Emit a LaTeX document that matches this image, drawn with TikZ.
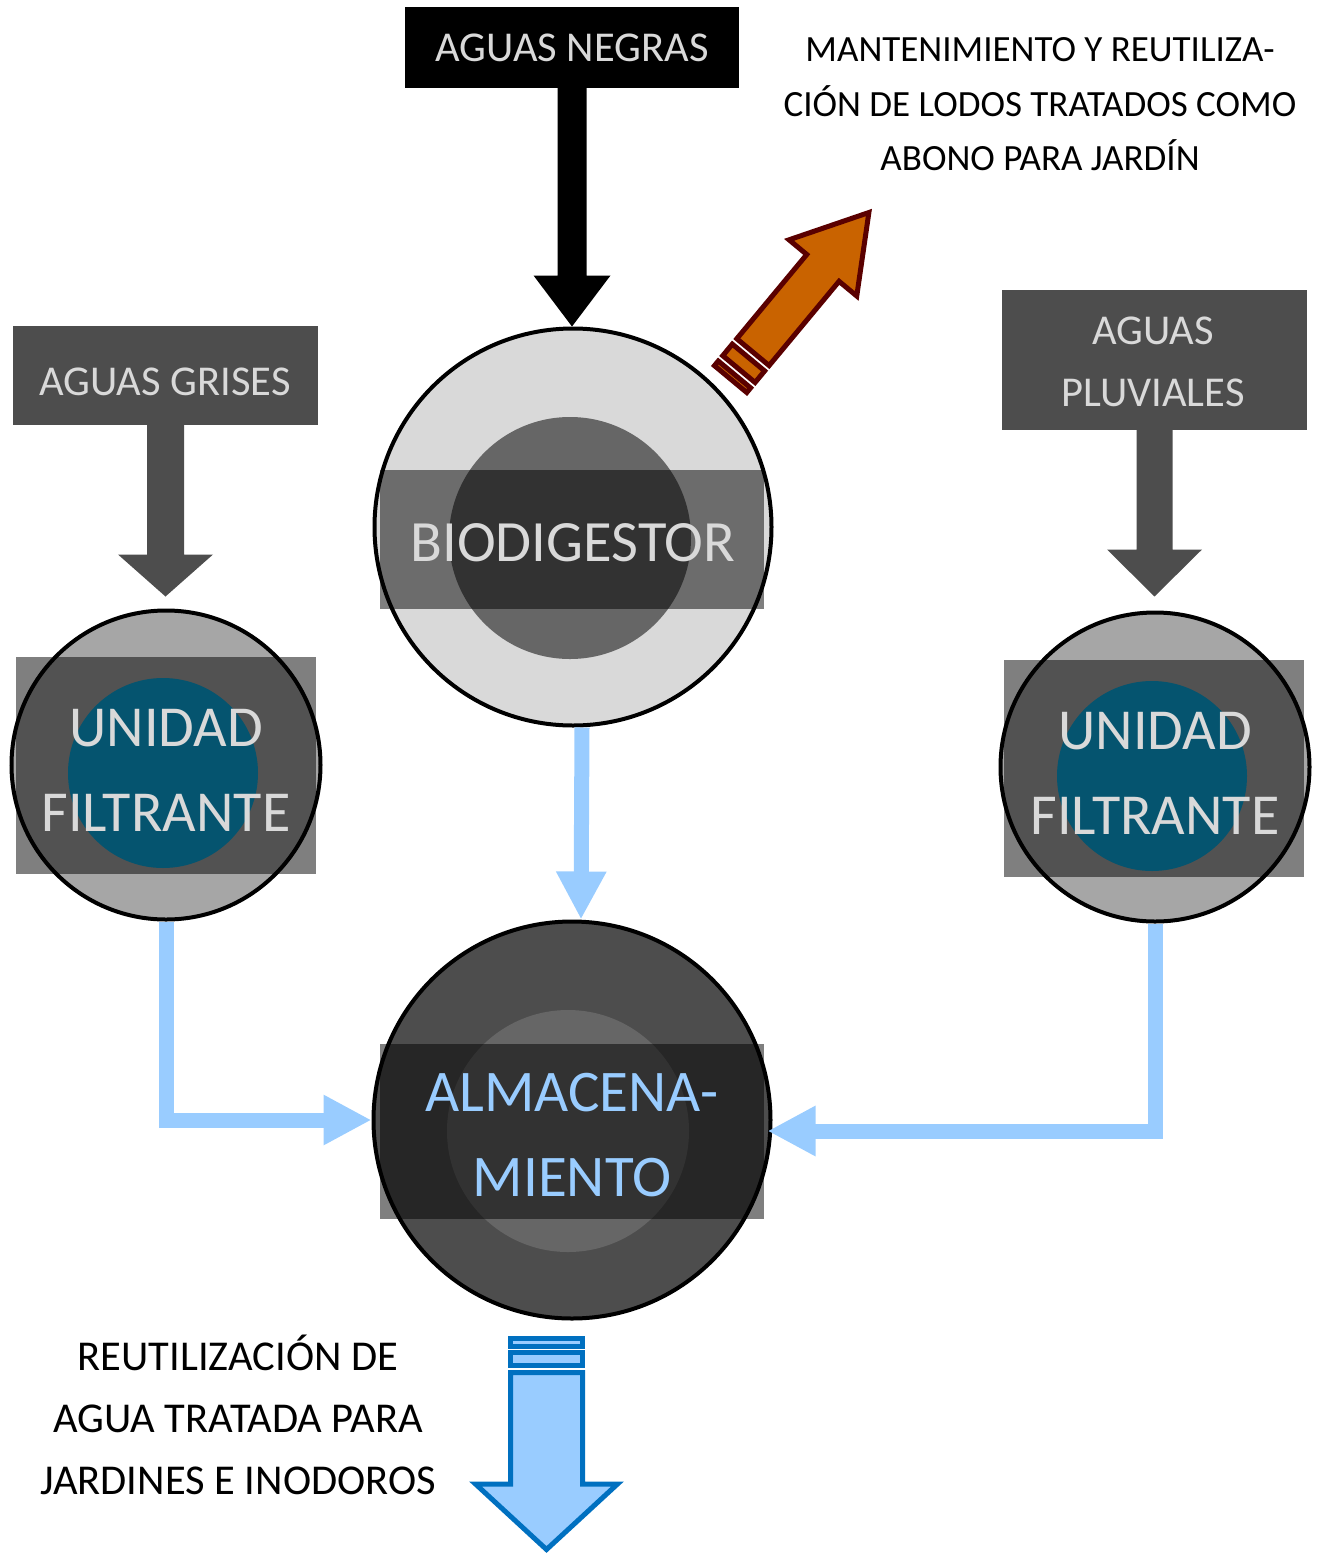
\documentclass[tikz,border=0pt]{standalone}
\usepackage{fontspec}
\setmainfont{Carlito}
\usetikzlibrary{calc,arrows.meta}
\definecolor{lg}{HTML}{D9D9D9}
\definecolor{boxgray}{HTML}{4D4D4D}
\definecolor{midgray}{HTML}{666666}
\definecolor{filtgray}{HTML}{A6A6A6}
\definecolor{teal}{HTML}{05546F}
\definecolor{lblue}{HTML}{99CCFF}
\definecolor{dblue}{HTML}{0070C0}
\definecolor{orng}{HTML}{C96300}
\definecolor{dred}{HTML}{5A0000}
\newcommand{\downblock}[6]{%
  \fill[#6] let \p1=(#1), \p2=(#2) in
    (\x1-#3pt,\y1) -- (\x1+#3pt,\y1) -- (\x1+#3pt,\y2+#5pt) -- (\x1+#4pt,\y2+#5pt)
    -- (\x1,\y2) -- (\x1-#4pt,\y2+#5pt) -- (\x1-#3pt,\y2+#5pt) -- cycle;}
\begin{document}
\begin{tikzpicture}[x=1pt,y=-1pt,
  srcbox/.style={rectangle,inner sep=0pt,minimum width=#1},
  lbl/.style={anchor=base,text=lg},
  dark/.style={text=black,anchor=base},
  tank/.style={circle,inner sep=0pt,minimum size=397pt,draw=black,line width=4pt},
  band/.style={fill=black,fill opacity=0.5},
  conn/.style={draw=lblue,line width=15pt,-{Triangle[width=47pt,length=48pt]}},
  fs/.style={font=\fontsize{#1pt}{#1pt}\selectfont}]
\useasboundingbox (0,0) rectangle (1318,1556);

% ---- source boxes ----
\node[srcbox=334pt,minimum height=81pt,fill=black] (negras) at (572,47.5) {};
\node[lbl,fs=42.5] (tnegras) at (572,61) {AGUAS NEGRAS};
\node[srcbox=305pt,minimum height=99pt,fill=boxgray] (grises) at (165.5,375.5) {};
\node[lbl,fs=42.5] (tgrises) at (165,395) {AGUAS GRISES};
\node[srcbox=305pt,minimum height=140pt,fill=boxgray] (pluv) at (1154.5,360) {};
\node[lbl,fs=42.5] (tpluv1) at (1153,344) {AGUAS};
\node[lbl,fs=42.5] (tpluv2) at (1153,406) {PLUVIALES};

% ---- biodigestor ----
\node[tank,fill=lg] (bio) at (573,527) {};
\fill[midgray] (570,538) circle[radius=121pt];
\fill[band] (380,470) rectangle (764,609);
\node[lbl,fs=58.5] (tbio) at (573,561) {BIODIGESTOR};

% ---- filter units ----
\node[tank,fill=filtgray,minimum size=309pt] (filtL) at (166,765) {};
\fill[band] (16,657) rectangle (316,874);
\fill[teal] (163,773) circle[radius=95pt];
\node[lbl,fs=58] (tfl1) at (166,746) {UNIDAD};
\node[lbl,fs=58] (tfl2) at (166,831) {FILTRANTE};

\node[tank,fill=filtgray,minimum size=309pt] (filtR) at (1155,767) {};
\fill[band] (1004,660) rectangle (1304,877);
\fill[teal] (1152,776) circle[radius=95pt];
\node[lbl,fs=58] (tfr1) at (1155,749) {UNIDAD};
\node[lbl,fs=58] (tfr2) at (1155,834) {FILTRANTE};

% ---- storage ----
\node[tank,fill=boxgray] (alm) at (572,1120) {};
\fill[midgray] (568,1131) circle[radius=121pt];
\fill[band] (380,1044) rectangle (764,1219);
\node[anchor=base,text=lblue,fs=59] (talm1) at (572,1111) {ALMACENA-};
\node[anchor=base,text=lblue,fs=59] (talm2) at (572,1196) {MIENTO};

% ---- inflow block arrows ----
\coordinate (gtip) at ([yshift=12pt]filtL.north);
\coordinate (ptip) at ([yshift=14pt]filtR.north);
\downblock{negras.south}{bio.north}{14.5}{38.5}{51}{black}
\downblock{grises.south}{gtip}{18.5}{47.5}{42}{boxgray}
\downblock{pluv.south}{ptip}{18}{47.5}{47}{boxgray}

% ---- blue connectors ----
\draw[conn] ([xshift=9pt]bio.south) -- ([xshift=9pt]alm.north);
\draw[conn] (filtL.south) |- (alm.west);
\draw[conn] (filtR.south) |- ([xshift=-5pt,yshift=-11pt]alm.east);

% ---- sludge arrow ----
\begin{scope}[shift={(729,381)},rotate=50.3,draw=dred,fill=orng,line width=5pt]
  \filldraw (2.5,-21) rectangle (8.5,21);
  \filldraw (15.5,-21) rectangle (30.5,21);
  \filldraw (37.5,-21) -- (147,-21) -- (147,-44) -- (219,0) -- (147,44) -- (147,21) -- (37.5,21) -- cycle;
\end{scope}
\node[dark,fs=37] (tm1) at (1040,61) {MANTENIMIENTO Y REUTILIZA-};
\node[dark,fs=37] (tm2) at (1040,116) {CIÓN DE LODOS TRATADOS COMO};
\node[dark,fs=37] (tm3) at (1040,170) {ABONO PARA JARDÍN};

% ---- reuse arrow ----
\begin{scope}[shift={(546.5,1336)},rotate=-90,draw=dblue,fill=lblue,line width=5pt]
  \filldraw (2.5,-36) rectangle (10.5,36);
  \filldraw (16.5,-36) rectangle (29.5,36);
  \filldraw (36.5,-36) -- (148,-36) -- (148,-71) -- (213.5,0) -- (148,71) -- (148,36) -- (36.5,36) -- cycle;
\end{scope}
\node[dark,fs=42.5] (tr1) at (238,1370) {REUTILIZACIÓN DE};
\node[dark,fs=42.5] (tr2) at (238,1432) {AGUA TRATADA PARA};
\node[dark,fs=42.5] (tr3) at (238,1494) {JARDINES E INODOROS};
\end{tikzpicture}
\end{document}
